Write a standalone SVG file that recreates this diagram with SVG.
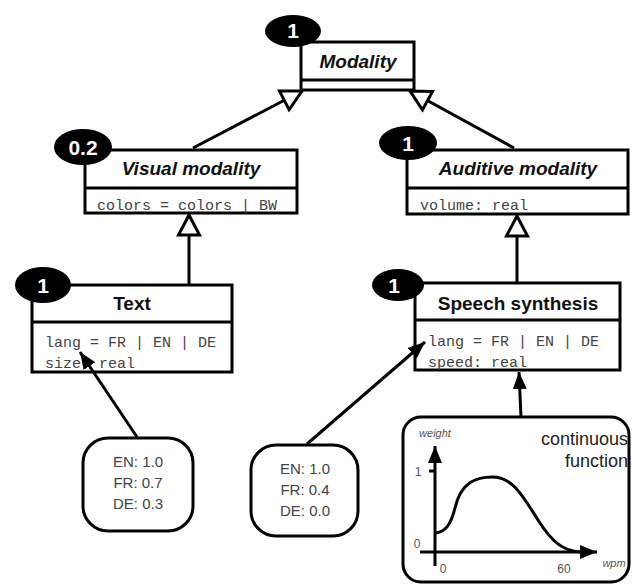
<svg xmlns="http://www.w3.org/2000/svg" width="632" height="584" viewBox="0 0 632 584">
<style>
.box{fill:#fff;stroke:#000;stroke-width:3}
.div{stroke:#000;stroke-width:3}
.oval{fill:#000}
.num{font-family:"Liberation Sans",Arial,sans-serif;font-weight:bold;font-size:21px;fill:#fff;text-anchor:middle}
.title{font-family:"Liberation Sans",Arial,sans-serif;font-weight:bold;font-size:19px;fill:#111;text-anchor:middle}
.it{font-style:italic}
.attr{font-family:"Liberation Mono","Courier New",monospace;font-size:15px;fill:#444}
.val{font-family:"Liberation Sans",Arial,sans-serif;font-size:15px;fill:#444;text-anchor:middle}
.conn{fill:none;stroke:#000;stroke-width:3}
.gen{marker-end:url(#hollow)}
.dep{marker-end:url(#filled)}
.small{font-family:"Liberation Sans",Arial,sans-serif;font-size:12px;fill:#555}
.smit{font-family:"Liberation Sans",Arial,sans-serif;font-size:11px;font-style:italic;fill:#555}
.big{font-family:"Liberation Sans",Arial,sans-serif;font-size:18px;fill:#222;text-anchor:end}
</style>
<defs>
<marker id="hollow" markerUnits="userSpaceOnUse" markerWidth="26" markerHeight="26" refX="22" refY="12" orient="auto" viewBox="0 0 26 24">
<path d="M2,1.5 L22,12 L2,22.5 Z" fill="#fff" stroke="#000" stroke-width="3" stroke-linejoin="miter"/>
</marker>
<marker id="filled" markerUnits="userSpaceOnUse" markerWidth="18" markerHeight="14" refX="17" refY="7" orient="auto" viewBox="0 0 18 14">
<path d="M0,0 L17,7 L0,14 Z" fill="#000"/>
</marker>
</defs>

<g id="modality">
<rect class="box" x="301" y="42" width="113" height="48"/>
<line class="div" x1="301" y1="80" x2="414" y2="80"/>
<text class="title it" x="358" y="68">Modality</text>
<ellipse class="oval" cx="293" cy="31" rx="28" ry="16"/>
<text class="num" x="293" y="38">1</text>
</g>

<g id="visual-modality">
<rect class="box" x="85" y="150" width="212" height="63"/>
<line class="div" x1="85" y1="188" x2="297" y2="188"/>
<text class="title it" x="191" y="175">Visual modality</text>
<text class="attr" x="97" y="210">colors = colors | BW</text>
<ellipse class="oval" cx="83" cy="147" rx="29" ry="18"/>
<text class="num" x="83" y="155">0.2</text>
</g>

<g id="auditive-modality">
<rect class="box" x="407" y="150" width="221" height="64"/>
<line class="div" x1="407" y1="188" x2="628" y2="188"/>
<text class="title it" x="518" y="175">Auditive modality</text>
<text class="attr" x="420" y="210">volume: real</text>
<ellipse class="oval" cx="408" cy="143" rx="29" ry="17"/>
<text class="num" x="408" y="151">1</text>
</g>

<g id="text">
<rect class="box" x="32" y="285" width="200" height="87"/>
<line class="div" x1="32" y1="322" x2="232" y2="322"/>
<text class="title" x="132" y="310">Text</text>
<text class="attr" x="45" y="347">lang = FR | EN | DE</text>
<text class="attr" x="45" y="368">size: real</text>
<ellipse class="oval" cx="43" cy="285" rx="28" ry="18"/>
<text class="num" x="43" y="293">1</text>
</g>

<g id="speech-synthesis">
<rect class="box" x="415" y="283" width="205" height="87"/>
<line class="div" x1="415" y1="320" x2="620" y2="320"/>
<text class="title" x="518" y="310">Speech synthesis</text>
<text class="attr" x="428" y="346">lang = FR | EN | DE</text>
<text class="attr" x="428" y="367">speed: real</text>
<ellipse class="oval" cx="398" cy="285" rx="26" ry="16"/>
<text class="num" x="394" y="293">1</text>
</g>

<g id="text-weights">
<rect class="box" x="83" y="438" width="110" height="93" rx="25" ry="25"/>
<text class="val" x="138" y="467">EN: 1.0</text>
<text class="val" x="138" y="488">FR: 0.7</text>
<text class="val" x="138" y="509">DE: 0.3</text>
</g>

<g id="speech-weights">
<rect class="box" x="251" y="445" width="107" height="91" rx="25" ry="25"/>
<text class="val" x="305" y="474">EN: 1.0</text>
<text class="val" x="305" y="495">FR: 0.4</text>
<text class="val" x="305" y="516">DE: 0.0</text>
</g>

<g id="continuous-function">
<rect class="box" x="403" y="417" width="226" height="165" rx="18" ry="18"/>
<text class="big" x="628" y="445">continuous</text>
<text class="big" x="628" y="467">function</text>
<line class="conn dep" x1="435" y1="566" x2="435" y2="446"/>
<line class="conn dep" x1="420" y1="552" x2="597" y2="552"/>
<line class="conn" x1="429" y1="471" x2="435" y2="471"/>
<path class="conn" d="M435,533 C446,532 451,524 455,508 C461,482 476,477 493,477 C513,477 524,498 538,520 C552,542 563,551 580,552"/>
<text class="smit" x="435" y="437" text-anchor="middle">weight</text>
<text class="small" x="418" y="476" text-anchor="middle">1</text>
<text class="small" x="417" y="548" text-anchor="middle">0</text>
<text class="small" x="443" y="573" text-anchor="middle">0</text>
<text class="small" x="564" y="573" text-anchor="middle">60</text>
<text class="smit" x="614" y="567" text-anchor="middle">wpm</text>
</g>

<g id="connectors">
<line class="conn gen" x1="193" y1="148" x2="302" y2="91"/>
<line class="conn gen" x1="514" y1="148" x2="410" y2="91"/>
<line class="conn gen" x1="189" y1="285" x2="189" y2="215"/>
<line class="conn gen" x1="517" y1="283" x2="517" y2="216"/>
<line class="conn dep" x1="137" y1="437" x2="80" y2="352"/>
<line class="conn dep" x1="307" y1="444" x2="425" y2="342"/>
<line class="conn dep" x1="521" y1="417" x2="519" y2="372"/>
</g>
</svg>
